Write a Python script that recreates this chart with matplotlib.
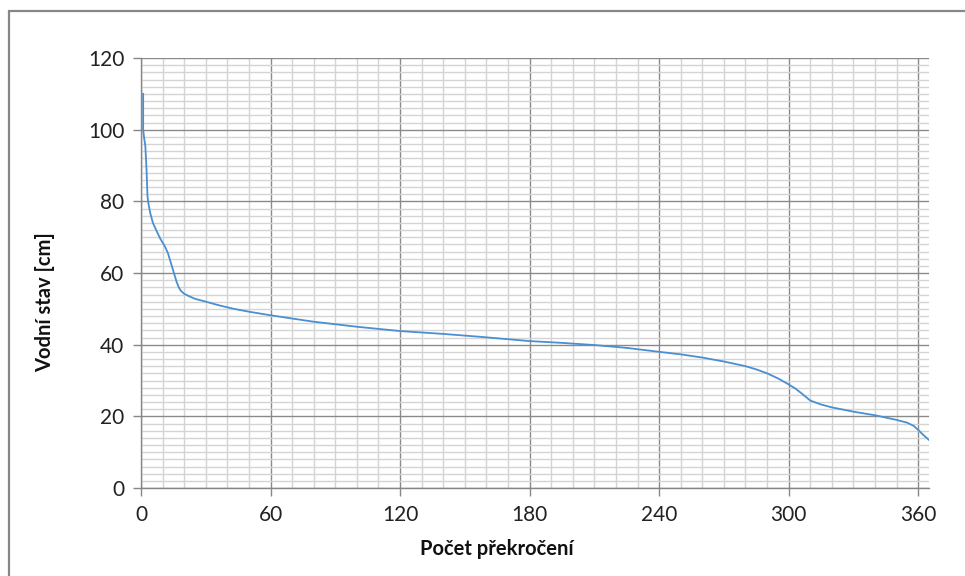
import matplotlib
matplotlib.use("Agg")
import matplotlib.pyplot as plt
from matplotlib.patches import Rectangle
from matplotlib.ticker import MultipleLocator

# Data (x: count of exceedances, y: water level in cm)
days = [1, 1, 1.5, 2, 2.3, 2.6, 2.8, 3, 3.4, 4.3, 5.5, 7, 9, 11, 12.5, 13.5,
        14.5, 15.5, 16.5, 17.5, 18.5, 20, 22, 25, 30, 36, 43, 50, 60, 70, 80,
        100, 120, 140, 157, 180, 195, 210, 225, 240, 250, 260, 270, 280, 285,
        290, 295, 300, 303, 306, 310, 315, 320, 330, 340, 350, 355, 358, 360,
        362, 365]
level = [110, 100, 97.5, 95.5, 92, 88.3, 85, 81.5, 79.5, 76.7, 74, 72, 69.5,
         67.5, 65.5, 63.5, 61.5, 59.5, 57.5, 56, 55, 54.2, 53.6, 52.8, 52,
         51, 50, 49.2, 48.2, 47.3, 46.4, 45, 43.8, 43, 42.2, 41, 40.5, 39.9,
         39.1, 38, 37.3, 36.4, 35.3, 34, 33.1, 32, 30.6, 28.9, 27.8, 26.4,
         24.4, 23.3, 22.5, 21.3, 20.3, 19, 18.2, 17.3, 16.2, 15, 13.4]

x_major = [0, 60, 120, 180, 240, 300, 360]
y_major = [0, 20, 40, 60, 80, 100, 120]

W, H = 965, 576
fig = plt.figure(figsize=(W / 100, H / 100), dpi=100)
fig.patch.set_facecolor("white")

# chart area border (extends past right/bottom edges like the reference)
fig.patches.append(Rectangle((9 / W, -0.2), 2.0, 1 - 11 / H + 0.2,
                             transform=fig.transFigure, fill=False,
                             edgecolor="#878787", linewidth=1.6, clip_on=False))

ax = fig.add_axes([141 / W, 1 - 488 / H, 788 / W, 430 / H])
ax.set_xlim(0, 365)
ax.set_ylim(0, 120)
ax.set_xticks(x_major)
ax.set_yticks(y_major)
ax.xaxis.set_minor_locator(MultipleLocator(10))
ax.yaxis.set_minor_locator(MultipleLocator(2))

ax.grid(which="minor", color="#d4d4d4", linewidth=1.0)
ax.grid(which="major", color="#8a8a8a", linewidth=1.0)
ax.set_axisbelow(True)

for s in ("top", "right"):
    ax.spines[s].set_visible(False)
for s in ("left", "bottom"):
    ax.spines[s].set_color("#868686")
    ax.spines[s].set_linewidth(1.0)

ax.tick_params(which="major", direction="out", length=6, width=1,
               color="#868686", labelsize=15, labelcolor="#222222", pad=6)
ax.tick_params(which="minor", length=0)
for lab in ax.get_xticklabels() + ax.get_yticklabels():
    lab.set_fontfamily("Lato")

ax.plot(days, level, color="#4a8fd1", linewidth=1.3, solid_joinstyle="round")

fig.text(497 / W, 1 - 549 / H, "Počet překročení", ha="center", va="center",
         fontsize=14.5, fontweight="bold", family="Lato", color="#111111")
fig.text(45 / W, 1 - 302 / H, "Vodní stav [cm]", ha="center", va="center",
         rotation=90, fontsize=14.5, fontweight="bold", family="Lato",
         color="#111111")

fig.savefig("out.png", dpi=100)
